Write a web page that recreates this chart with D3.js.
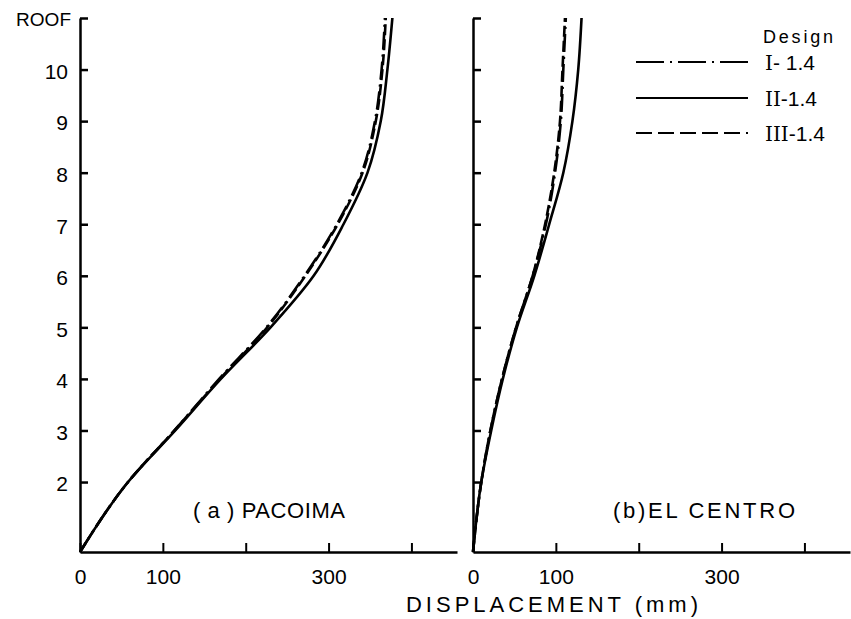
<!DOCTYPE html>
<html>
<head>
<meta charset="utf-8">
<script src="https://cdn.jsdelivr.net/npm/d3@7"></script>
<style>
  body { margin: 0; background: #fff; }
  svg { display: block; }
</style>
</head>
<body>
<div id="chart"></div>
<script>
// storey elevations (in storey units, first storey is taller) and their labels
const floorElev = [0, 1.357, 2.357, 3.357, 4.357, 5.357, 6.357, 7.357, 8.357, 9.357, 10.357];
const tickElev = [1.357, 2.357, 3.357, 4.357, 5.357, 6.357, 7.357, 8.357, 9.357, 10.357];
const tickLabels = ["2", "3", "4", "5", "6", "7", "8", "9", "10", "ROOF"];
const dispTicks = [0, 100, 200, 300, 400];
const dispLabels = ["0", "100", "", "300", ""];

// peak displacement (mm) per floor: ground, 2 ... 10, roof
const pacoimaI   = [0, 58, 114, 168, 225, 271, 310, 340, 356, 364, 368];
const pacoimaII  = [0, 58, 115, 170, 230, 282, 318, 347, 363, 371, 377];
const pacoimaIII = [0, 58, 114, 169, 226, 272, 311, 341, 357, 365, 369];

const elcentroI   = [0, 10, 21, 35, 52, 72, 88, 99, 106, 109, 112];
const elcentroII  = [0, 10, 22, 36, 53, 74, 92, 109, 120, 127, 131];
const elcentroIII = [0, 10, 21, 35, 52, 72, 87, 98, 105, 108, 111];

const designs = ["I", "II", "III"];

const width = 851, height = 619;
const font = "'Liberation Sans', Arial, sans-serif";
const dashes = { I: "18,5,2,5", II: null, III: "11,4" };

const svg = d3.select("#chart").append("svg")
    .attr("width", width)
    .attr("height", height)
    .attr("font-family", font);

const y = d3.scaleLinear().domain([0, 10.357]).range([552, 18]);

function drawPanel(x0, x1, series, title, titleX, titleLen, showLabels) {
  const x = d3.scaleLinear().domain([0, 455]).range([x0, x1]);

  // y axis, ticks pointing inwards
  const ya = svg.append("g")
      .attr("transform", `translate(${x0},0)`)
      .call(d3.axisLeft(y)
        .tickValues(tickElev)
        .tickFormat((d, i) => showLabels ? tickLabels[i] : "")
        .tickSizeInner(-8)
        .tickSizeOuter(0)
        .tickPadding(12));
  ya.select(".domain").attr("stroke-width", 2.5);
  ya.selectAll(".tick line").attr("stroke-width", 2.5);
  ya.selectAll(".tick text")
      .attr("font-size", 21)
      .attr("dy", "0.42em")
      .attr("fill", "#000");
  ya.selectAll(".tick text").filter(d => d === 10.357)
      .attr("font-size", 19).attr("dx", 3);

  // x axis
  const xa = svg.append("g")
      .attr("transform", `translate(0,${y(0)})`)
      .call(d3.axisBottom(x)
        .tickValues(dispTicks)
        .tickFormat((d, i) => dispLabels[i])
        .tickSizeInner(-9)
        .tickSizeOuter(0)
        .tickPadding(17));
  xa.select(".domain").attr("stroke-width", 2.5);
  xa.selectAll(".tick line").attr("stroke-width", 2);
  xa.selectAll(".tick text").attr("font-size", 21).attr("fill", "#000");

  const line = d3.line()
      .x(d => x(d[0]))
      .y(d => y(d[1]))
      .curve(d3.curveMonotoneY);

  series.forEach((vals, k) => {
    svg.append("path")
        .datum(vals.map((v, i) => [v, floorElev[i]]))
        .attr("d", line)
        .attr("fill", "none")
        .attr("stroke", "#000")
        .attr("stroke-width", 2.6)
        .attr("stroke-dasharray", dashes[designs[k]]);
  });

  svg.append("text")
      .attr("x", titleX)
      .attr("y", 518)
      .attr("font-size", 22)
      .attr("textLength", titleLen)
      .attr("lengthAdjust", "spacing")
      .text(title);
}

drawPanel(80, 457, [pacoimaI, pacoimaII, pacoimaIII], "( a ) PACOIMA", 193, 152, true);
drawPanel(473, 850, [elcentroI, elcentroII, elcentroIII], "(b)EL CENTRO", 613, 182, false);

// common x title
svg.append("text")
    .attr("x", 406)
    .attr("y", 612)
    .attr("font-size", 22)
    .attr("textLength", 292)
    .attr("lengthAdjust", "spacing")
    .text("DISPLACEMENT  (mm)");

// legend
svg.append("text")
    .attr("x", 763)
    .attr("y", 43)
    .attr("font-size", 18)
    .attr("textLength", 70)
    .attr("lengthAdjust", "spacing")
    .text("Design");

const legendY = [62, 98, 133];
const legend = svg.append("g").selectAll("g")
  .data(designs)
  .join("g")
    .attr("transform", (d, i) => `translate(0,${legendY[i]})`);

legend.append("line")
    .attr("x1", 636).attr("x2", 748)
    .attr("stroke", "#000")
    .attr("stroke-width", 2.2)
    .attr("stroke-dasharray", d => d === "I" ? "28,6,2,6" : d === "III" ? "16,6" : null);

const lt = legend.append("text")
    .attr("x", 765)
    .attr("y", 8)
    .attr("font-size", 21);
lt.append("tspan")
    .attr("font-family", "'DejaVu Serif', 'Liberation Serif', serif")
    .attr("font-size", 20)
    .text(d => d);
lt.append("tspan")
    .text(d => d === "I" ? "- 1.4" : "-1.4");
</script>
</body>
</html>
